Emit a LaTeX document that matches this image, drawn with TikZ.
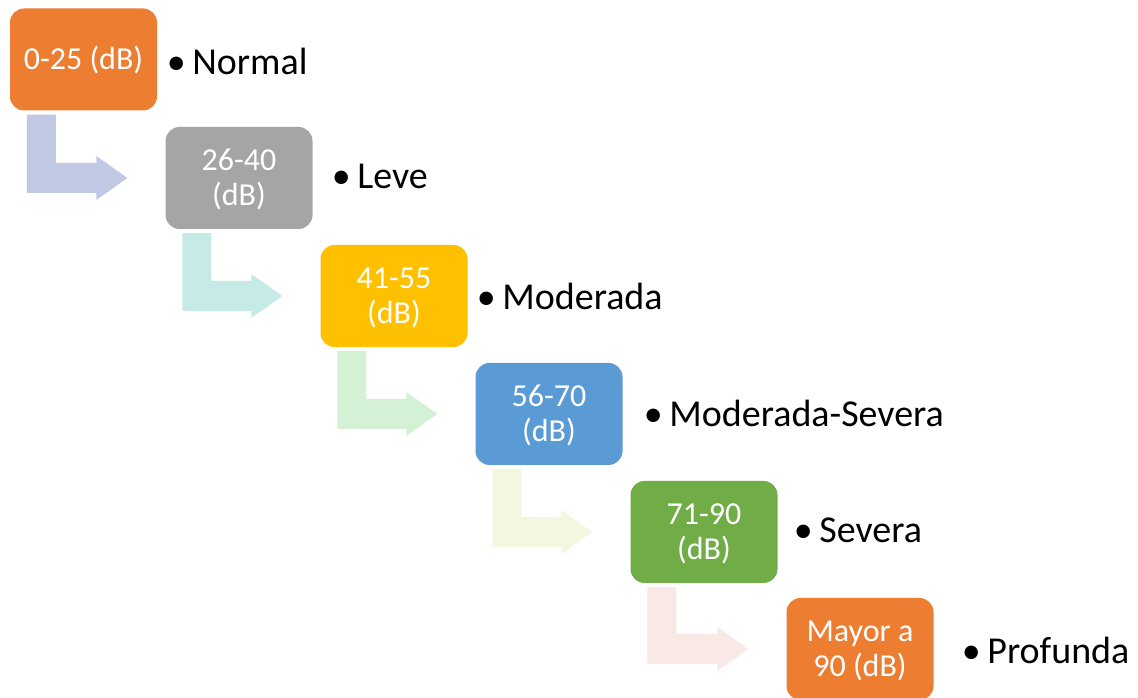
\documentclass[tikz,border=0pt]{standalone}
\usepackage{fontspec}
\setmainfont{Carlito}
\usetikzlibrary{calc}
\definecolor{cOrange}{HTML}{ED7D31}
\definecolor{cGray}{HTML}{A5A5A5}
\definecolor{cGold}{HTML}{FFC000}
\definecolor{cBlue}{HTML}{5B9BD5}
\definecolor{cGreen}{HTML}{70AD47}
\definecolor{aOne}{HTML}{C0C8E4}
\definecolor{aTwo}{HTML}{C6EAE6}
\definecolor{aThree}{HTML}{D4F0D5}
\definecolor{aFour}{HTML}{F4F7E0}
\definecolor{aFive}{HTML}{F9E9E6}
\newcommand{\bul}{\makebox[23pt][l]{\hspace{-2.5pt}\raisebox{0pt}{\scalebox{1.0}{•}}}}
\newcommand{\bt}[1]{\raisebox{-3.5pt}[\height][\depth]{\begin{tabular}{@{}c@{}}#1\end{tabular}}}
\tikzset{
  box/.style={rounded corners=14pt, minimum width=147pt, minimum height=102pt,
    inner sep=0pt, text=white, align=center, font=\fontsize{32}{35}\selectfont},
  lab/.style={anchor=west, inner sep=0pt, text=black, font=\fontsize{38}{38}\selectfont},
}
% bent arrow from box #1 to box #2 filled with colour #3
\newcommand{\bentarrow}[3]{%
  \fill[#3] let \p1=(#1.south west), \p2=(#2.west) in
    (\x1+17pt,\y1-4pt) -- (\x1+46pt,\y1-4pt) -- (\x1+46pt,\y2+15pt)
    -- (\x2-69pt,\y2+15pt) -- (\x2-69pt,\y2+22pt) -- (\x2-38pt,\y2)
    -- (\x2-69pt,\y2-22pt) -- (\x2-69pt,\y2-15pt) -- (\x1+17pt,\y2-15pt) -- cycle;}
\begin{document}
\begin{tikzpicture}[x=1pt,y=1pt]
\useasboundingbox (0,0) rectangle (1138,698);
\fill[white] (0,0) rectangle (1138,698);
\node[box, fill=cOrange] (b1) at (83.5,638.5) {\bt{0-25 (dB)}};
\node[box, fill=cGray]   (b2) at (239,520) {\bt{26-40\\(dB)}};
\node[box, fill=cGold]   (b3) at (394,402) {\bt{41-55\\(dB)}};
\node[box, fill=cBlue]   (b4) at (549,284) {\bt{56-70\\(dB)}};
\node[box, fill=cGreen]  (b5) at (704,166) {\bt{71-90\\(dB)}};
\node[box, fill=cOrange] (b6) at (860,49) {\bt{Mayor a\\90 (dB)}};
\bentarrow{b1}{b2}{aOne}
\bentarrow{b2}{b3}{aTwo}
\bentarrow{b3}{b4}{aThree}
\bentarrow{b4}{b5}{aFour}
\bentarrow{b5}{b6}{aFive}
\node[lab] (l1) at ($(b1.east)+(12,-2)$) {\bul Normal};
\node[lab] (l2) at ($(b2.east)+(21.5,2)$) {\bul Leve};
\node[lab] (l3) at ($(b3.east)+(11.5,0)$) {\bul Moderada};
\node[lab] (l4) at ($(b4.east)+(23.5,1)$) {\bul Moderada-Severa};
\node[lab] (l5) at ($(b5.east)+(18.5,2)$) {\bul Severa};
\node[lab] (l6) at ($(b6.east)+(30.5,-1)$) {\bul Profunda};
\end{tikzpicture}
\end{document}
